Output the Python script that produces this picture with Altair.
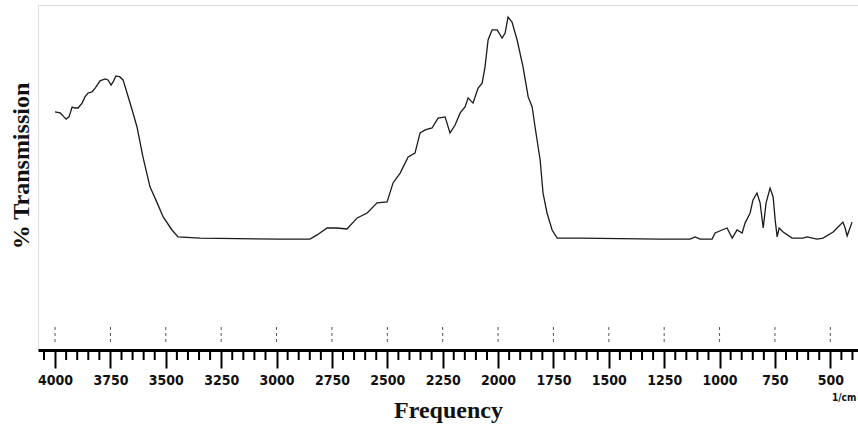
import altair as alt
import pandas as pd

# Spectrum (wavenumber in 1/cm, relative % transmission)
freq = [4000, 3977, 3964, 3950, 3937, 3923, 3910, 3896, 3878, 3865, 3851, 3833, 3819, 3797,
        3774, 3761, 3747, 3738, 3725, 3707, 3693, 3675, 3652, 3630, 3603, 3571, 3539, 3512,
        3472, 3445, 3345, 2984, 2849, 2817, 2772, 2727, 2682, 2636, 2591, 2546, 2501, 2474,
        2442, 2406, 2375, 2352, 2329, 2298, 2271, 2239, 2217, 2194, 2171, 2149, 2135, 2113,
        2090, 2072, 2059, 2045, 2027, 2004, 1982, 1968, 1955, 1937, 1914, 1887, 1864, 1846,
        1833, 1810, 1797, 1779, 1756, 1733, 1630, 1268, 1133, 1110, 1088, 1034, 1020, 989,
        966, 943, 921, 898, 885, 862, 849, 831, 817, 803, 790, 772, 758, 749, 740, 731, 713,
        673, 623, 605, 560, 533, 487, 465, 443, 433, 424, 402]
trans = [56.6, 56.2, 55.0, 53.7, 54.6, 58.6, 58.2, 58.2, 60.2, 62.7, 64.3, 64.7, 66.3, 69.2,
         70.0, 69.6, 67.5, 68.8, 71.2, 70.8, 69.6, 64.3, 57.4, 50.5, 38.3, 26.1, 19.7, 14.0,
         8.7, 5.9, 5.4, 5.0, 5.0, 6.7, 9.5, 9.5, 9.1, 13.6, 15.6, 19.7, 20.1, 27.8,
         31.8, 38.3, 39.9, 48.1, 49.3, 50.1, 54.1, 54.6, 48.1, 51.3, 56.2, 58.6, 62.3, 60.2,
         66.3, 68.3, 74.8, 85.8, 89.9, 89.9, 86.6, 88.6, 95.1, 93.1, 85.8, 74.8, 62.7, 58.6,
         50.5, 37.1, 23.7, 15.6, 8.7, 5.4, 5.4, 5.0, 5.0, 5.9, 5.0, 5.0, 7.5, 8.7,
         9.5, 5.4, 8.7, 7.5, 11.5, 15.6, 20.9, 23.7, 19.7, 9.5, 19.7, 25.7, 22.1, 12.8, 5.9, 9.5, 7.9,
         5.4, 5.4, 5.9, 5.0, 5.4, 7.9, 9.9, 11.9, 9.5, 6.3, 11.9]

major_ticks = [4000, 3750, 3500, 3250, 3000, 2750, 2500, 2250, 2000, 1750, 1500, 1250, 1000, 750, 500]
minor_ticks = [v for v in range(4050, 399, -50) if v % 250 != 0]

x_domain = [375, 4077]
y_domain = [-40, 100]

narrow = "'Liberation Sans Narrow', 'DejaVu Sans Condensed', 'Roboto Condensed', sans-serif"
serif = "'Liberation Serif', 'DejaVu Serif', serif"

spec_df = pd.DataFrame({"freq": freq, "trans": trans})
xscale = alt.Scale(domain=x_domain, reverse=True, nice=False, zero=False)
yscale = alt.Scale(domain=y_domain, nice=False, zero=False)

line = alt.Chart(spec_df).mark_line(color="#1a1a1a", strokeWidth=1.3).encode(
    x=alt.X("freq:Q", scale=xscale, title="Frequency",
            axis=alt.Axis(values=major_ticks, format="d", grid=False,
                          domainColor="black", domainWidth=3,
                          tickColor="black", tickWidth=2, tickSize=18,
                          labelFont=narrow, labelFontSize=14, labelFontWeight="bold",
                          labelColor="#111", labelPadding=5,
                          titleFont=serif, titleFontSize=24, titleFontWeight="bold",
                          titleColor="#111", titlePadding=11)),
    y=alt.Y("trans:Q", scale=yscale, axis=None),
)

minor = alt.Chart(pd.DataFrame({"freq": minor_ticks})).mark_rule(
    color="black", strokeWidth=2).encode(
    x=alt.X("freq:Q", scale=xscale),
    y=alt.value(345), y2=alt.value(355),
)

dashes = alt.Chart(pd.DataFrame({"freq": major_ticks})).mark_rule(
    color="#555", strokeWidth=1, strokeDash=[3, 3]).encode(
    x=alt.X("freq:Q", scale=xscale),
    y=alt.value(322), y2=alt.value(340),
)

ytitle = alt.Chart(pd.DataFrame({"t": ["% Transmission"]})).mark_text(
    angle=270, font=serif, fontSize=24, fontWeight="bold", color="#111",
    align="center", baseline="middle").encode(
    x=alt.value(-16), y=alt.value(161), text="t:N")

unit = alt.Chart(pd.DataFrame({"t": ["1/cm"]})).mark_text(
    font=narrow, fontSize=10, fontWeight="bold", color="#111",
    align="left", baseline="middle").encode(
    x=alt.value(794), y=alt.value(393), text="t:N")

chart = alt.layer(dashes, minor, line, ytitle, unit).properties(
    width=820, height=345,
    autosize=alt.AutoSizeParams(type="none"),
    padding={"left": 38, "top": 5, "right": 0, "bottom": 80},
).configure_view(stroke=None).configure(background="white")

chart.save("out.html", embed_options={"renderer": "svg", "actions": False})
